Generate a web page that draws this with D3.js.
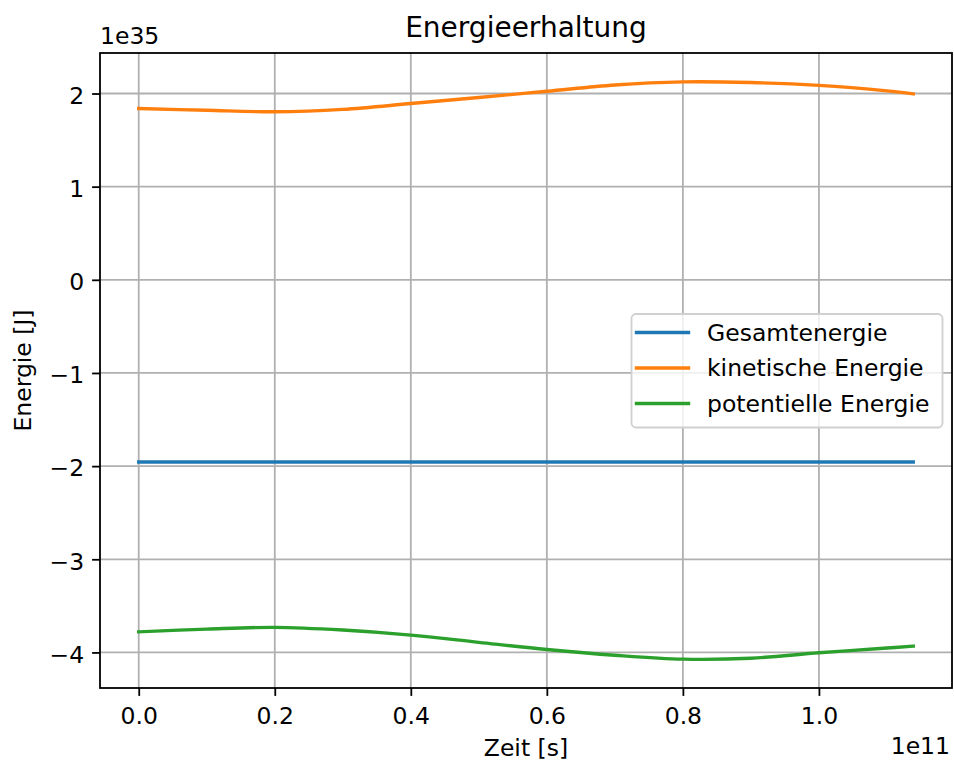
<!DOCTYPE html>
<html>
<head>
<meta charset="utf-8">
<script src="https://cdn.jsdelivr.net/npm/d3@7/dist/d3.min.js"></script>
<style>
  body { margin: 0; background: #fff; }
  text { font-family: "DejaVu Sans", sans-serif; fill: #000; }
</style>
</head>
<body>
<svg id="chart" width="954" height="762"></svg>
<script>
// Zeit in Einheiten von 1e11 s, Energien in Einheiten von 1e35 J
const zeit = [0, 0.1, 0.2, 0.3, 0.4, 0.5, 0.6, 0.7, 0.8, 0.9, 1.0, 1.1, 1.1387];
const gesamtEnergie = [-1.955, -1.955, -1.955, -1.955, -1.955, -1.955, -1.955, -1.955, -1.955, -1.955, -1.955, -1.955, -1.955];
const kinetischeEnergie = [1.839, 1.820, 1.804, 1.830, 1.892, 1.957, 2.024, 2.092, 2.125, 2.118, 2.087, 2.028, 1.996];
const potentielleEnergie = [-3.779, -3.750, -3.731, -3.760, -3.814, -3.892, -3.968, -4.030, -4.072, -4.062, -4.004, -3.953, -3.932];

const serienNamen = ["Gesamtenergie", "kinetische Energie", "potentielle Energie"];
const serienFarben = ["#1f77b4", "#ff7f0e", "#2ca02c"];
const xTickWerte = [0.0, 0.2, 0.4, 0.6, 0.8, 1.0];
const yTickWerte = [-4, -3, -2, -1, 0, 1, 2];

const titel = "Energieerhaltung";
const xTitel = "Zeit [s]";
const yTitel = "Energie [J]";
const xExponent = "1e11";
const yExponent = "1e35";

const serien = [gesamtEnergie, kinetischeEnergie, potentielleEnergie];

const svg = d3.select("#chart");
const plot = { left: 100, right: 952, top: 53, bottom: 688 };
const fs = 23.5;          // Schriftgröße der Achsenbeschriftung
const tickLen = 7.9;

// Wertebereiche mit 5 % Rand
function padded(ext) {
  const pad = (ext[1] - ext[0]) * 0.05;
  return [ext[0] - pad, ext[1] + pad];
}
const xDomain = padded(d3.extent(zeit));
const yDomain = padded(d3.extent(serien.flat()));

const x = d3.scaleLinear().domain(xDomain).range([plot.left, plot.right]);
const y = d3.scaleLinear().domain(yDomain).range([plot.bottom, plot.top]);

// Gitterlinien
const grid = svg.append("g").attr("stroke", "#b0b0b0").attr("stroke-width", 1.8);
grid.selectAll("line.gx").data(xTickWerte).join("line")
  .attr("x1", d => x(d)).attr("x2", d => x(d))
  .attr("y1", plot.top).attr("y2", plot.bottom);
grid.selectAll("line.gy").data(yTickWerte).join("line")
  .attr("x1", plot.left).attr("x2", plot.right)
  .attr("y1", d => y(d)).attr("y2", d => y(d));

// Kurven
const line = d3.line()
  .x((d, i) => x(zeit[i]))
  .y(d => y(d))
  .curve(d3.curveCatmullRom);

svg.append("g").selectAll("path").data(serien).join("path")
  .attr("d", d => line(d))
  .attr("fill", "none")
  .attr("stroke", (d, i) => serienFarben[i])
  .attr("stroke-width", 3.4)
  .attr("stroke-linecap", "square")
  .attr("stroke-linejoin", "round");

// Achsen
const fmtX = d3.format(".1f");
const fmtY = d3.format("d");

const xAxis = svg.append("g")
  .attr("transform", `translate(0,${plot.bottom})`)
  .call(d3.axisBottom(x).tickValues(xTickWerte).tickFormat(fmtX)
    .tickSize(tickLen).tickPadding(7.9).tickSizeOuter(0));
xAxis.select(".domain").remove();
xAxis.selectAll(".tick line").attr("stroke", "#000").attr("stroke-width", 1.8);
xAxis.selectAll(".tick text").attr("font-size", fs).attr("y", 36).attr("dy", null)
  .attr("font-family", "DejaVu Sans").attr("fill", "#000");

const yAxis = svg.append("g")
  .attr("transform", `translate(${plot.left},0)`)
  .call(d3.axisLeft(y).tickValues(yTickWerte).tickFormat(fmtY)
    .tickSize(tickLen).tickPadding(7.9).tickSizeOuter(0));
yAxis.select(".domain").remove();
yAxis.selectAll(".tick line").attr("stroke", "#000").attr("stroke-width", 1.8);
yAxis.selectAll(".tick text").attr("font-size", fs).attr("dy", "0.42em")
  .attr("font-family", "DejaVu Sans").attr("fill", "#000");

// Rahmen
svg.append("rect")
  .attr("x", plot.left).attr("y", plot.top)
  .attr("width", plot.right - plot.left).attr("height", plot.bottom - plot.top)
  .attr("fill", "none").attr("stroke", "#000").attr("stroke-width", 1.8);

// Titel und Beschriftungen
svg.append("text").attr("x", (plot.left + plot.right) / 2).attr("y", 36.5)
  .attr("text-anchor", "middle").attr("font-size", 28).text(titel);
svg.append("text").attr("x", (plot.left + plot.right) / 2).attr("y", 756)
  .attr("text-anchor", "middle").attr("font-size", fs).text(xTitel);
svg.append("text")
  .attr("transform", `translate(31,${(plot.top + plot.bottom) / 2}) rotate(-90)`)
  .attr("text-anchor", "middle").attr("font-size", fs).text(yTitel);
svg.append("text").attr("x", plot.left).attr("y", 43.5)
  .attr("font-size", fs).text(yExponent);
svg.append("text").attr("x", plot.right - 2).attr("y", 754)
  .attr("text-anchor", "end").attr("font-size", fs).text(xExponent);

// Legende
const legend = svg.append("g").attr("transform", "translate(631.5,314)");
legend.append("rect")
  .attr("width", 311).attr("height", 113.5).attr("rx", 4.5)
  .attr("fill", "#fff").attr("fill-opacity", 0.8)
  .attr("stroke", "#d0d0d0").attr("stroke-width", 1.8);
const rows = legend.selectAll("g.row").data(serienNamen).join("g")
  .attr("transform", (d, i) => `translate(0,${18.5 + i * 35.5})`);
rows.append("line")
  .attr("x1", 5).attr("x2", 57).attr("y1", 0).attr("y2", 0)
  .attr("stroke", (d, i) => serienFarben[i]).attr("stroke-width", 3.4)
  .attr("stroke-linecap", "square");
rows.append("text").attr("x", 75.5).attr("y", 8).attr("font-size", fs).text(d => d);
</script>
</body>
</html>
